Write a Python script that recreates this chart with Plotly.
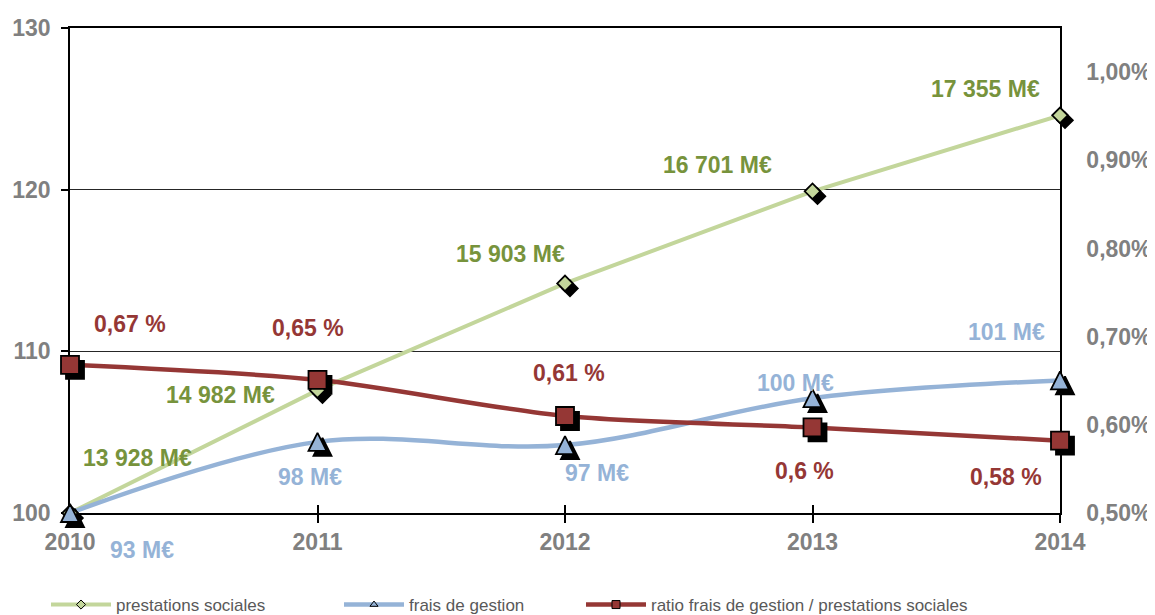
import plotly.graph_objects as go

years = [2010, 2011, 2012, 2013, 2014]
prestations_meur = [13928, 14982, 15903, 16701, 17355]
prestations_index = [100, 107.6, 114.2, 119.9, 124.6]
frais_meur = [93, 98, 97, 100, 101]
frais_index = [100, 104.4, 104.2, 107.1, 108.2]
ratio_pct = [0.668, 0.651, 0.610, 0.597, 0.582]
series_names = ["prestations sociales", "frais de gestion",
                "ratio frais de gestion / prestations sociales"]
left_ticks = [100, 110, 120, 130]
right_ticks = [0.5, 0.6, 0.7, 0.8, 0.9, 1.0]

# label offsets in pixels (dx right, dy down)
green_off = [(67, -55), (-97, 5), (-55, -29), (-95, -26), (-75, -26)]
blue_off = [(72, 37), (-8, 35), (32, 28), (-17, -15), (-54, -48)]
red_off = [(60, -41), (-10, -52), (4, -43), (-8, 44), (-54, 36)]

W, H = 1155, 615
PAGE = 8  # default body margin of the html page
SH = 5    # shadow offset, px
ML, MR, MT, MB = 70 - PAGE, 95 - SH + PAGE, 28 - PAGE, 102 - SH + PAGE
UW, UH = W - ML - MR, H - MT - MB
PW, PH = UW - SH, UH - SH
XR = [2010, 2014]
YL = [100, 130]
YR = [0.5, 1.05]
main_xdom = [0, PW / UW]
main_ydom = [SH / UH, 1]
shad_xdom = [SH / UW, 1]
shad_ydom = [0, PH / UH]
# arrow-up marker has its tip on the point: lift it by half its size
TRI = 18
tri_lift = (TRI / 2) * (YL[1] - YL[0]) / PH
YT = [YL[0] - tri_lift, YL[1] - tri_lift]

GREEN, GREEN_TXT = "#c3d69b", "#77933c"
BLUE, BLUE_TXT = "#95b3d7", "#95b3d7"
RED, RED_TXT = "#953735", "#953735"
GRAY = "#808080"
FONT = "Liberation Sans, Arial, sans-serif"

fig = go.Figure()

# lines (small markers for the legend, hidden under the big ones)
fig.add_trace(go.Scatter(x=years, y=prestations_index, mode="lines+markers", name=series_names[0],
                         line=dict(color=GREEN, width=4),
                         marker=dict(symbol="diamond", size=7, color=GREEN, line=dict(color="black", width=1)),
                         xaxis="x", yaxis="y", cliponaxis=False, legend="legend"))
fig.add_trace(go.Scatter(x=years, y=frais_index, mode="lines+markers", name=series_names[1],
                         line=dict(color=BLUE, width=4.5, shape="spline", smoothing=1),
                         marker=dict(symbol="triangle-up", size=7, color=BLUE, line=dict(color="black", width=1)),
                         xaxis="x", yaxis="y", cliponaxis=False, legend="legend2"))
fig.add_trace(go.Scatter(x=years, y=ratio_pct, mode="lines+markers", name=series_names[2],
                         line=dict(color=RED, width=4.5, shape="spline", smoothing=0.8),
                         marker=dict(symbol="square", size=8, color=RED, line=dict(color="black", width=1)),
                         xaxis="x", yaxis="y2", cliponaxis=False, legend="legend3"))

# shadows (subplot shifted right/down)
shadow = dict(color="black", line=dict(color="black", width=1.8))
fig.add_trace(go.Scatter(x=years, y=prestations_index, mode="markers", showlegend=False,
                         marker=dict(symbol="diamond", size=12, **shadow),
                         xaxis="x2", yaxis="y3", cliponaxis=False, hoverinfo="skip"))
fig.add_trace(go.Scatter(x=years, y=ratio_pct, mode="markers", showlegend=False,
                         marker=dict(symbol="square", size=18, **shadow),
                         xaxis="x2", yaxis="y4", cliponaxis=False, hoverinfo="skip"))
fig.add_trace(go.Scatter(x=years, y=frais_index, mode="markers", showlegend=False,
                         marker=dict(symbol="arrow-up", size=TRI, **shadow),
                         xaxis="x2", yaxis="y8", cliponaxis=False, hoverinfo="skip"))

# markers on top
edge = dict(color="black", width=1.8)
fig.add_trace(go.Scatter(x=years, y=prestations_index, mode="markers", showlegend=False,
                         marker=dict(symbol="diamond", size=12, color=GREEN, line=edge),
                         xaxis="x3", yaxis="y5", cliponaxis=False))
fig.add_trace(go.Scatter(x=years, y=ratio_pct, mode="markers", showlegend=False,
                         marker=dict(symbol="square", size=18, color=RED, line=edge),
                         xaxis="x3", yaxis="y6", cliponaxis=False))
fig.add_trace(go.Scatter(x=years, y=frais_index, mode="markers", showlegend=False,
                         marker=dict(symbol="arrow-up", size=TRI, color=BLUE, line=edge),
                         xaxis="x3", yaxis="y7", cliponaxis=False))

# data labels
lab_font = dict(family=FONT, size=23, weight="bold")
for i, yr in enumerate(years):
    fig.add_annotation(x=yr, y=prestations_index[i], xref="x", yref="y",
                       text=f"{prestations_meur[i]:,} M€".replace(",", " "),
                       xshift=green_off[i][0], yshift=-green_off[i][1], showarrow=False,
                       font=dict(color=GREEN_TXT, **lab_font))
    fig.add_annotation(x=yr, y=frais_index[i], xref="x", yref="y",
                       text=f"{frais_meur[i]} M€",
                       xshift=blue_off[i][0], yshift=-blue_off[i][1], showarrow=False,
                       font=dict(color=BLUE_TXT, **lab_font))
    fig.add_annotation(x=yr, y=ratio_pct[i], xref="x", yref="y2",
                       text=f"{round(ratio_pct[i], 2):g} %".replace(".", ","),
                       xshift=red_off[i][0], yshift=-red_off[i][1], showarrow=False,
                       font=dict(color=RED_TXT, **lab_font))

tick_font = dict(family=FONT, size=23, color=GRAY, weight="bold")
hidden = dict(visible=False, showgrid=False, zeroline=False, automargin=False)
leg_font = dict(family=FONT, size=17, color="#595959")


def leg(x):
    return dict(orientation="h", xref="container", yref="container", x=x, y=0.0,
                xanchor="left", yanchor="bottom", itemwidth=60, font=leg_font,
                bgcolor="rgba(0,0,0,0)")


fig.update_layout(
    width=W, height=H,
    margin=dict(l=ML, r=MR, t=MT, b=MB),
    paper_bgcolor="white", plot_bgcolor="rgba(0,0,0,0)",
    showlegend=True,
    legend=leg(38 / W), legend2=leg(331 / W), legend3=leg(573 / W),
    xaxis=dict(domain=main_xdom, range=XR, tickvals=years, ticktext=[str(y) for y in years],
               showline=True, linecolor="black", linewidth=1.5, mirror=True,
               ticks="outside", ticklen=8, tickcolor="black", tickwidth=1.5,
               showgrid=False, zeroline=False, tickfont=tick_font, automargin=False),
    yaxis=dict(domain=main_ydom, range=YL, tickvals=left_ticks, showgrid=True,
               gridcolor="#262626", gridwidth=1,
               showline=True, linecolor="black", linewidth=1.5, zeroline=False,
               ticks="outside", ticklen=7, tickcolor="black", tickwidth=1.5,
               tickfont=tick_font, ticklabelstandoff=6, automargin=False),
    yaxis2=dict(range=YR, overlaying="y", side="right", anchor="x",
                tickvals=right_ticks, ticktext=[f"{v:.2f}%".replace(".", ",") for v in right_ticks],
                showgrid=False, zeroline=False, showline=True, linecolor="black", linewidth=1.5,
                ticks="", tickfont=tick_font, ticklabelstandoff=20, automargin=False),
    # shadow subplot
    xaxis2=dict(domain=shad_xdom, range=XR, anchor="y3", **hidden),
    yaxis3=dict(domain=shad_ydom, range=YL, anchor="x2", **hidden),
    yaxis4=dict(range=YR, overlaying="y3", anchor="x2", **hidden),
    yaxis8=dict(range=YT, overlaying="y3", anchor="x2", **hidden),
    # marker subplot (also carries the upper half of the crossing x ticks)
    xaxis3=dict(domain=main_xdom, range=XR, anchor="y5", tickvals=years, showticklabels=False,
                ticks="inside", ticklen=8, tickcolor="black", tickwidth=1.5,
                showline=False, showgrid=False, zeroline=False, automargin=False),
    yaxis5=dict(domain=main_ydom, range=YL, anchor="x3", **hidden),
    yaxis6=dict(range=YR, overlaying="y5", anchor="x3", **hidden),
    yaxis7=dict(range=YT, overlaying="y5", anchor="x3", **hidden),
)

fig.write_html("out.html")
